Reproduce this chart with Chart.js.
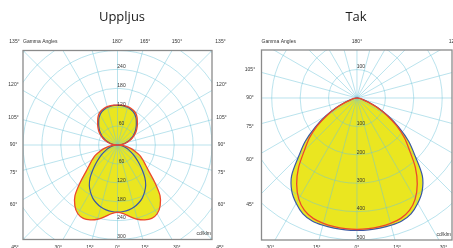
<!DOCTYPE html>
<html>
<head>
<meta charset="utf-8">
<script src="https://cdn.jsdelivr.net/npm/chart.js@4.4.1/dist/chart.umd.min.js"></script>
<style>
  html, body { margin: 0; padding: 0; background: #fff; }
  #wrap { position: relative; width: 453px; height: 248px; overflow: hidden; }
  #wrap canvas { position: absolute; left: 0; top: 0; }
</style>
</head>
<body>
<div id="wrap">
  <canvas id="uppljus" width="453" height="248"></canvas>
  <canvas id="tak" width="453" height="248"></canvas>
</div>
<script>
// gamma angles in degrees, 0 = straight down, 180 = straight up
var uppGamma = [0, 5, 10, 15, 20, 25, 30, 35, 40, 45, 50, 55, 60, 65, 70, 75, 80, 85, 90,
                95, 100, 105, 110, 115, 120, 125, 130, 135, 140, 145, 150, 155, 160, 165, 170, 175, 180];
// cd/klm, C0-C180 plane (red) and C90-C270 plane (blue)
var uppC0  = [214, 219, 231, 244, 253, 257, 252, 236, 210, 167, 130, 108, 92, 78, 60, 45, 30, 15, 0,
              10, 21, 31, 41, 51, 61, 71, 80, 89, 98, 108, 116, 121, 124, 126, 127, 127, 127];
var uppC90 = [213, 212, 209, 204, 196, 186, 172, 156, 135, 110, 88, 70, 55, 42, 31, 22, 14, 7, 0,
              8, 18, 27, 37, 47, 57, 66, 75, 84, 93, 103, 111, 117, 121, 124, 125, 126, 126];
var uppRings = [60, 120, 180, 240, 300, 360, 420, 480];
var uppRingLabelsDown = [60, 120, 180, 240, 300];
var uppRingLabelsUp = [60, 120, 180, 240];
// [gamma, side] side 1 = right half, -1 = left half
var uppAngleLabels = [[135, -1], [180, 1], [165, 1], [150, 1], [135, 1],
                      [120, -1], [105, -1], [90, -1], [75, -1], [60, -1],
                      [120, 1], [105, 1], [90, 1], [75, 1], [60, 1],
                      [45, -1], [30, -1], [15, -1], [0, 1], [15, 1], [30, 1], [45, 1]];

var takGamma = [0, 5, 10, 15, 20, 25, 30, 35, 40, 45, 50, 55, 60, 65, 70, 75, 80, 85, 90];
var takC0  = [463, 462, 460, 457, 451, 437, 410, 370, 320, 262, 218, 170, 121, 77, 42, 21, 10, 4, 0];
var takC90 = [466, 466, 465, 464, 461, 450, 428, 400, 358, 290, 238, 180, 127, 80, 44, 22, 10, 4, 0];
var takRings = [100, 200, 300, 400, 500, 600, 700];
var takRingLabelsDown = [100, 200, 300, 400, 500];
var takRingLabelsUp = [100];
var takAngleLabels = [[180, 1], [120, 1],
                      [105, -1], [90, -1], [75, -1], [60, -1], [45, -1],
                      [30, -1], [15, -1], [0, 1], [15, 1], [30, 1]];

var YELLOW = 'rgb(234, 230, 32)';
var RED = 'rgb(236, 72, 44)';
var BLUE = 'rgb(58, 88, 165)';
var GRID = 'rgba(110, 196, 218, 0.6)';
var TEXT = '#333';

// closed outline: right half from 180 down to 0, then mirrored left half back up
function outline(gamma, values) {
  var pts = [];
  for (var i = gamma.length - 1; i >= 0; i--) {
    var a = gamma[i] * Math.PI / 180;
    pts.push({x: values[i] * Math.sin(a), y: -values[i] * Math.cos(a)});
  }
  for (var j = 1; j < gamma.length; j++) {
    var b = gamma[j] * Math.PI / 180;
    pts.push({x: -values[j] * Math.sin(b), y: -values[j] * Math.cos(b)});
  }
  return pts;
}

function gridPlugin(o) {
  return {
    id: 'photoGrid',
    beforeDatasetsDraw: function(chart) {
      var ctx = chart.ctx, a = chart.chartArea;
      var x = chart.scales.x, y = chart.scales.y;
      var cx = x.getPixelForValue(0), cy = y.getPixelForValue(0);
      ctx.save();
      ctx.beginPath();
      ctx.rect(a.left, a.top, a.right - a.left, a.bottom - a.top);
      ctx.clip();
      ctx.strokeStyle = GRID;
      ctx.lineWidth = 0.8;
      o.rings.forEach(function(r) {
        ctx.beginPath();
        ctx.arc(cx, cy, x.getPixelForValue(r) - cx, 0, Math.PI * 2);
        ctx.stroke();
      });
      for (var g = 0; g < 360; g += 15) {
        var t = g * Math.PI / 180;
        ctx.beginPath();
        ctx.moveTo(cx, cy);
        ctx.lineTo(cx + 600 * Math.sin(t), cy + 600 * Math.cos(t));
        ctx.stroke();
      }
      ctx.restore();
    },
    afterDatasetsDraw: function(chart) {
      var ctx = chart.ctx, a = chart.chartArea;
      var x = chart.scales.x, y = chart.scales.y;
      var cx = x.getPixelForValue(0), cy = y.getPixelForValue(0);
      ctx.save();
      // frame
      ctx.strokeStyle = '#8a8a8a';
      ctx.lineWidth = 1.3;
      ctx.strokeRect(a.left, a.top, a.right - a.left, a.bottom - a.top);

      ctx.fillStyle = TEXT;
      ctx.font = '5px "Liberation Sans", Arial, sans-serif';
      ctx.textBaseline = 'middle';
      ctx.textAlign = 'center';
      o.down.forEach(function(r) {
        ctx.fillText(String(r), cx + 4, y.getPixelForValue(-r) - 2.5);
      });
      o.up.forEach(function(r) {
        ctx.fillText(String(r), cx + 4, y.getPixelForValue(r) - 2.5);
      });
      var box = o.labelBox;
      o.angles.forEach(function(l) {
        var t = l[0] * Math.PI / 180;
        var dx = l[1] * Math.sin(t), dy = Math.cos(t);
        var k = Infinity;
        if (dx > 1e-6) k = Math.min(k, box.right / dx);
        if (dx < -1e-6) k = Math.min(k, box.left / -dx);
        if (dy > 1e-6) k = Math.min(k, box.bottom / dy);
        if (dy < -1e-6) k = Math.min(k, box.top / -dy);
        ctx.fillText(l[0] + '°', cx + k * dx, cy + k * dy);
      });
      ctx.textAlign = 'left';
      ctx.fillText('Gamma Angles', a.left, cy - box.top);
      ctx.textAlign = 'right';
      ctx.fillText('cd/klm', a.right - 1, a.bottom - 5.5);

      ctx.fillStyle = '#1a1a1a';
      ctx.font = '13px "Open Sans", "Noto Sans", sans-serif';
      ctx.textAlign = 'center';
      ctx.fillText(o.title, o.titleX, 17);
      ctx.restore();
    }
  };
}

function photometric(id, o) {
  return new Chart(document.getElementById(id), {
    type: 'scatter',
    data: {
      datasets: [{
        label: 'C0-C180',
        data: outline(o.gamma, o.c0),
        showLine: true,
        fill: 'shape',
        backgroundColor: YELLOW,
        borderColor: RED,
        borderWidth: 1.3,
        tension: 0.3,
        pointRadius: 0
      }, {
        label: 'C90-C270',
        data: outline(o.gamma, o.c90),
        showLine: true,
        fill: 'shape',
        backgroundColor: YELLOW,
        borderColor: BLUE,
        borderWidth: 1.2,
        tension: 0.3,
        pointRadius: 0
      }]
    },
    options: {
      responsive: false,
      animation: false,
      events: [],
      devicePixelRatio: 1,
      layout: { padding: o.padding },
      scales: {
        x: { type: 'linear', display: false, min: o.xRange[0], max: o.xRange[1] },
        y: { type: 'linear', display: false, min: o.yRange[0], max: o.yRange[1] }
      },
      plugins: {
        legend: { display: false },
        tooltip: { enabled: false },
        filler: { drawTime: 'beforeDatasetsDraw' }
      }
    },
    plugins: [gridPlugin(o)]
  });
}

photometric('uppljus', {
  title: 'Uppljus', titleX: 122,
  gamma: uppGamma, c0: uppC0, c90: uppC90,
  rings: uppRings, down: uppRingLabelsDown, up: uppRingLabelsUp,
  angles: uppAngleLabels,
  labelBox: { left: 104, right: 104, top: 103, bottom: 102.5 },
  padding: { left: 23, right: 241, top: 50.5, bottom: 8.5 },
  xRange: [-300, 300], yRange: [-300, 300]
});

photometric('tak', {
  title: 'Tak', titleX: 356,
  gamma: takGamma, c0: takC0, c90: takC90,
  rings: takRings, down: takRingLabelsDown, up: takRingLabelsUp,
  angles: takAngleLabels,
  labelBox: { left: 107, right: 107, top: 56, bottom: 150 },
  padding: { left: 261.5, right: 1, top: 50, bottom: 8 },
  xRange: [-336, 334.5], yRange: [-500, 169]
});
</script>
</body>
</html>
